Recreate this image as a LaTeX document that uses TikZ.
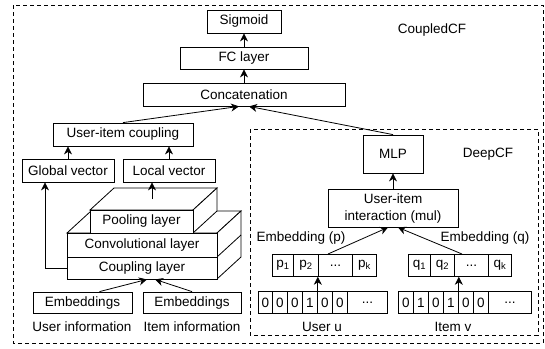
\documentclass[tikz,border=0pt]{standalone}
\usepackage{fontspec}
\setmainfont{Liberation Sans}
\usetikzlibrary{arrows.meta,calc}
\newcommand\mydots{...}
\begin{document}
\begin{tikzpicture}[x=1bp,y=-1bp,
  every node/.style={font=\fontsize{13.5bp}{17bp}\selectfont},
  box/.style={draw, line width=0.8bp, inner sep=0pt, fill=white},
  cell/.style={box, minimum height=22bp, anchor=north west},
  arr/.style={-{Stealth[length=8bp,width=8bp,inset=2.5bp]}, line width=0.8bp},
  frame/.style={draw, line width=0.8bp, dash pattern=on 4bp off 3bp},
  solid3d/.style={draw, line width=0.8bp, fill=white, line join=miter}
]
\useasboundingbox (0,0) rectangle (545,348);
% frames
\draw[frame] (13,5) rectangle (543,343);
\draw[frame] (250,129) rectangle (538,335);
\node (lcoupled) at (432,30) {CoupledCF};
\node (ldeep) at (488,154) {DeepCF};

% top stack
\node[box, minimum width=74bp, minimum height=23bp] (sig) at (244,21.5) {Sigmoid};
\node[box, minimum width=128bp, minimum height=22bp] (fc) at (244,58) {FC layer};
\node[box, minimum width=202bp, minimum height=23bp] (cat) at (244,94.5) {Concatenation};
\node[box, minimum width=140bp, minimum height=23bp] (uic) at (123,134.5) {User-item coupling};
\node[box, minimum width=92bp, minimum height=23bp] (gv) at (68,170.5) {Global vector};
\node[box, minimum width=92bp, minimum height=23bp] (lv) at (169,170.5) {Local vector};

% 3D layer stack: conv + coupling block
\draw[solid3d] (67,233) -- (91,211) -- (241,211) -- (217,233) -- cycle;
\draw[solid3d] (217,233) -- (241,211) -- (241,257) -- (217,279) -- cycle;
\draw[line width=0.8bp] (217,257) -- (241,235);
% pooling block
\draw[solid3d] (90,210) -- (114,188) -- (217,188) -- (193,210) -- cycle;
\draw[solid3d] (193,210) -- (217,188) -- (217,211) -- (193,233) -- cycle;
\node[box, minimum width=103bp, minimum height=23bp] (pool) at (141.5,221.5) {Pooling layer};
\node[box, minimum width=150bp, minimum height=24bp] (conv) at (142,245) {Convolutional layer};
\node[box, minimum width=150bp, minimum height=22bp] (coup) at (142,268) {Coupling layer};
\coordinate (pooltop) at (152,199);

\node[box, minimum width=99bp, minimum height=21bp] (emb1) at (82.5,302.5) {Embeddings};
\node[box, minimum width=98bp, minimum height=21bp] (emb2) at (192,302.5) {Embeddings};
\node (uinfo) at (82,327) {User information};
\node (iinfo) at (192,327) {Item information};

% DeepCF
\node[box, minimum width=60bp, minimum height=38bp] (mlp) at (393,154) {MLP};
\node[box, minimum width=130bp, minimum height=38bp, align=center] (inter) at (393,208) {User-item\\interaction (mul)};
\node (embp) at (301,238) {Embedding (p)};
\node (embq) at (485,238) {Embedding (q)};

\node[cell, minimum width=21bp] (p1) at (272,254) {p\textsubscript{1}};
\node[cell, minimum width=25bp] (p2) at (293,254) {p\textsubscript{2}};
\node[cell, minimum width=34bp] (pd) at (318,254) {\mydots};
\node[cell, minimum width=24bp] (pk) at (352,254) {p\textsubscript{k}};

\node[cell, minimum width=22bp] (q1) at (408,254) {q\textsubscript{1}};
\node[cell, minimum width=24bp] (q2) at (430,254) {q\textsubscript{2}};
\node[cell, minimum width=34bp] (qd) at (454,254) {\mydots};
\node[cell, minimum width=23bp] (qk) at (488,254) {q\textsubscript{k}};

\foreach \l/\r/\t [count=\i] in {258/272/0,272/287/0,287/302/0,302/317/1,317/332/0,332/347/0,347/387/\mydots}
  \node[cell, minimum width={(\r-\l)*1bp}] (u\i) at (\l,291) {\t};
\foreach \l/\r/\t [count=\i] in {398/413/0,413/428/1,428/443/0,443/458/1,458/473/0,473/488/0,488/531/\mydots}
  \node[cell, minimum width={(\r-\l)*1bp}] (v\i) at (\l,291) {\t};
\node (useru) at (322,326.5) {User u};
\node (itemv) at (453,326.5) {Item v};

% connectors
\draw[arr] (fc.north) -- (sig.south);
\draw[arr] (cat.north) -- (fc.south);
\draw[arr] (uic.north) -- ($(cat.south)+(-5,0)$);
\draw[arr] (mlp.north) -- ($(cat.south)+(5,0)$);
\draw[arr] (gv.north) -- (gv.north |- uic.south);
\draw[arr] (lv.north) -- (lv.north |- uic.south);
\draw[arr] (pooltop) -- (pooltop |- lv.south);
\draw[arr] (coup.west) -| ($(gv.south)+(-23,0)$);
\draw[arr] ($(emb1.north)+(17,0)$) -- ($(coup.south)+(5,0)$);
\draw[arr] (emb2.north) -- ($(coup.south)+(13,0)$);
\draw[arr] (inter.north) -- (mlp.south);
\draw[arr] ($(pd.north west)+(10,0)$) -- ($(inter.south)+(-5,0)$);
\draw[arr] ($(qd.north west)+(8,0)$) -- ($(inter.south)+(5,0)$);
\draw[arr] (u4.north east) -- (u4.north east |- p2.south);
\draw[arr] (v4.north east) -- (v4.north east |- qd.south);
\end{tikzpicture}
\end{document}
